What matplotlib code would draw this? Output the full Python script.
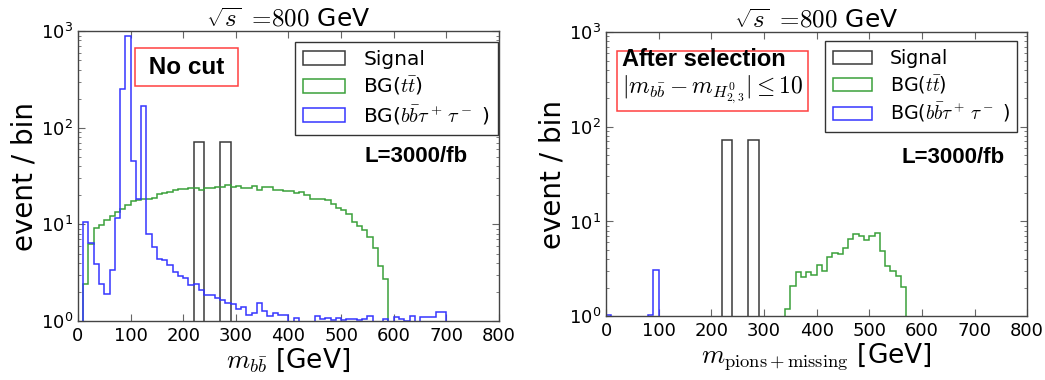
import numpy as np
import matplotlib
matplotlib.use("Agg")
import matplotlib.pyplot as plt

plt.rcParams['mathtext.fontset'] = 'cm'
plt.rcParams['font.family'] = ['DejaVu Sans']

# ---- data: events per 10 GeV bin, bin left edges 0,10,20,... ----
bin_width = 10
x_max = 800

signal_no_cut = {220: 72, 230: 72, 270: 72, 280: 72}
signal_selected = {220: 72, 230: 72, 270: 72, 280: 72}

# BG(tt) before cuts, bins starting at 0 GeV
tt_no_cut = [0, 2.4, 6.3, 9.2, 9.9, 11, 12.3, 13.4, 14.5, 15.9,
             17.3, 17.9, 18.3, 18.3, 18.6, 20.7, 21.2, 21.5, 22.8, 23,
             23.3, 23.7, 23.9, 22.8, 23.7, 23.7, 24.6, 24.6, 25.6, 24.2,
             24.9, 23.7, 23.7, 25, 22.8, 24.6, 24.6, 22.5, 22.8, 22,
             22, 21, 21.8, 20, 18.4, 18.4, 18.2, 18, 16.3, 14.9,
             14.2, 12.9, 10.6, 9.6, 8.7, 7.4, 5.7, 3.7, 2.75]

# BG(bb tau tau) before cuts, bins starting at 0 GeV
bbtautau_no_cut = [0, 10.6, 6.4, 3.9, 2.4, 1.9, 3.4, 11.6, 250, 890,
                   45, 18.5, 168, 7.9, 5.8, 4.4, 4.3, 3.8, 3.2, 2.9,
                   2.8, 2.35, 2.4, 2.09, 1.88, 1.85, 1.75, 1.64, 1.55, 1.5,
                   1.35, 1.4, 1.17, 1.22, 1.55, 1.27, 1.13, 1.22, 1.15, 1.17,
                   0, 1.08, 0, 0, 0, 1.12, 1.05, 1.08, 1.03, 1.08,
                   1.02, 1.05, 1.05, 1.02, 1.05, 1.13, 0, 0, 1.05, 0,
                   1.1, 1.05, 1.01, 1.13, 0, 1.1, 1.1, 1.1, 1.23, 1.23]

# after selection
tt_sel_start = 340
tt_selected = [1.2, 2.1, 2.9, 2.6, 2.9, 2.7, 3.5, 3.0, 4.2, 4.7,
               4.5, 5.3, 6.6, 7.3, 7.0, 6.45, 7.0, 7.5, 4.9, 3.4,
               3.0, 2.65, 2.04]
bbtautau_selected = {0: 1.03, 80: 1.03, 90: 3.06}

xticks = [0, 100, 200, 300, 400, 500, 600, 700, 800]
legend_labels = ['Signal', r'BG($t\bar{t}$)', r'BG($b\bar{b}\tau^+\,\tau^-$ )']
colors = {'sig': '#3a3a3a', 'tt': '#3aa03a', 'bb': '#3535ff'}

edges = np.arange(0, x_max + bin_width, bin_width)
centers = edges[:-1] + bin_width / 2
nb = len(centers)


def full(values, start=0):
    arr = np.zeros(nb)
    i0 = start // bin_width
    arr[i0:i0 + len(values)] = values
    return arr


def from_dict(d):
    arr = np.zeros(nb)
    for k, v in d.items():
        arr[k // bin_width] = v
    return arr


panels = [
    dict(sig=from_dict(signal_no_cut), tt=full(tt_no_cut), bb=full(bbtautau_no_cut),
         rect=[0.0746, 0.155, 0.4029, 0.7632], xlabel=r'$m_{b\bar{b}}$ [GeV]',
         leg=(0.9976, 0.962), legfs=14.5, lumi=(0.804, 0.569)),
    dict(sig=from_dict(signal_selected), tt=full(tt_selected, tt_sel_start),
         bb=from_dict(bbtautau_selected),
         rect=[0.580, 0.168, 0.4029, 0.7474],
         xlabel=r'$m_{\rm pions+missing}$ [GeV]',
         leg=(0.976, 0.968), legfs=13.7, lumi=(0.824, 0.560)),
]

fig = plt.figure(figsize=(10.45, 3.8), dpi=100)

for k, p in enumerate(panels):
    ax = fig.add_axes(p['rect'])
    h = []
    for key in ['sig', 'tt', 'bb']:
        _, _, patches = ax.hist(centers, bins=edges, weights=p[key], histtype='step',
                                color=colors[key], linewidth=1.1, log=True)
        h.append(patches[0])
    ax.set_xlim(0, x_max)
    ax.set_ylim(1, 1000)
    ax.set_xticks(xticks)
    ax.tick_params(which='both', direction='in', top=True, right=True,
                   color='#666666', labelsize=13)
    ax.tick_params(which='major', length=5, width=0.8)
    ax.tick_params(which='minor', length=2.5, width=0.6)
    ax.tick_params(axis='x', pad=4)
    for s in ax.spines.values():
        s.set_color('#444444')
        s.set_linewidth(1.0)
    ax.set_title(r'$\sqrt{s}\ =\!800$ GeV', fontsize=18, pad=2)
    ax.set_xlabel(p['xlabel'], fontsize=19, labelpad=1)
    ax.set_ylabel('event / bin', fontsize=20, labelpad=2)
    leg = ax.legend(h, legend_labels, loc='upper right', bbox_to_anchor=p['leg'],
                    borderaxespad=0, fontsize=p['legfs'], fancybox=False, framealpha=1,
                    handlelength=2.1, handleheight=0.7, handletextpad=0.9,
                    labelspacing=0.3, borderpad=0.4)
    leg.get_frame().set_edgecolor('#333333')
    leg.get_frame().set_linewidth(1.0)
    ax.text(p['lumi'][0], p['lumi'][1], 'L=3000/fb', transform=ax.transAxes,
            ha='center', va='center', fontsize=16, fontweight='bold',
            family='Liberation Sans')
    if k == 0:
        ax.text(0.258, 0.876, ' No cut ', transform=ax.transAxes, ha='center',
                va='center', fontsize=17.5, fontweight='bold', family='Liberation Sans',
                bbox=dict(boxstyle='square,pad=0.3', fc='white', ec='#ff4040', lw=1.1))
    else:
        ax.text(0.038, 0.842,
                'After selection\n' + r'$|m_{b\bar{b}}-m_{H^0_{2,3}}|\leq 10$',
                transform=ax.transAxes, ha='left', va='center', fontsize=17,
                fontweight='bold', family='Liberation Sans', linespacing=1.15,
                bbox=dict(boxstyle='square,pad=0.2', fc='white', ec='#ff4040', lw=1.1))

fig.savefig('out.png', dpi=100)
